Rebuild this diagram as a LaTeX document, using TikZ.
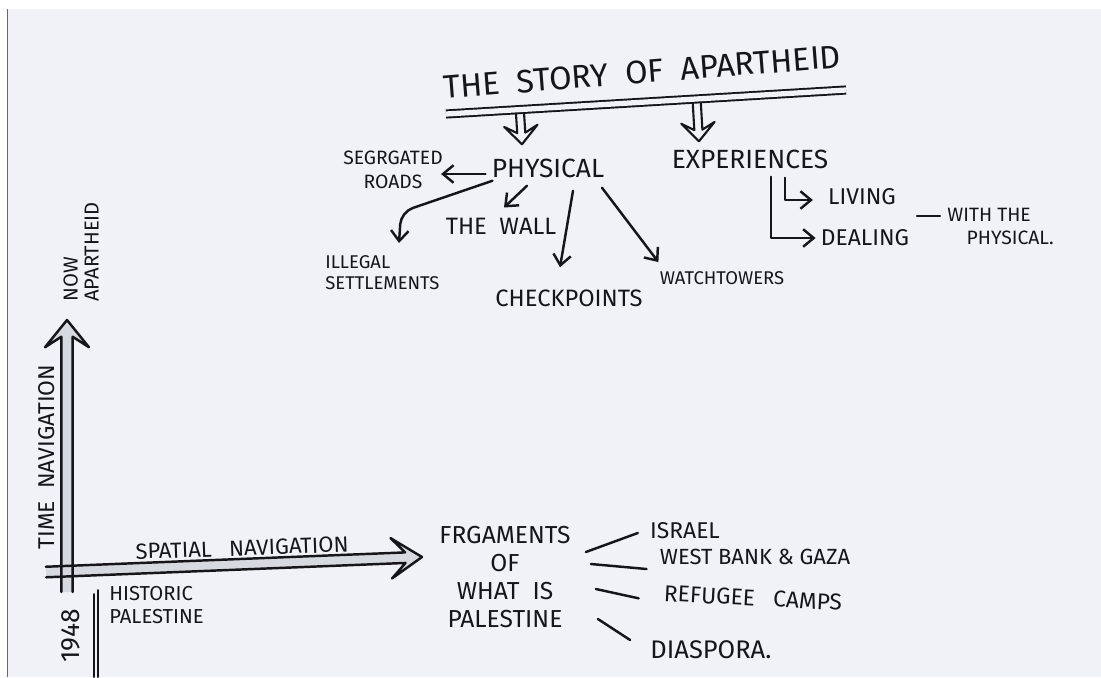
\documentclass[tikz,border=0pt]{standalone}
\usepackage{fontspec}
\IfFontExistsTF{FiraSans-Medium.otf}{\setmainfont{FiraSans-Medium.otf}}{\setmainfont{Fira Sans}}
\usetikzlibrary{arrows.meta,calc}
\definecolor{ink}{RGB}{22,22,26}
\definecolor{paper}{RGB}{241,242,248}
\definecolor{axisfill}{RGB}{214,218,224}
\definecolor{edge}{RGB}{120,96,104}

\tikzset{
  lbl/.style 2 args={inner sep=0pt, text=ink, font=\fontsize{#1}{#2}\selectfont},
  pen/.style={draw=ink, line width=1.4pt, line cap=round, line join=round},
  arr/.style={pen, -{Straight Barb[length=6pt,width=10pt]}},
  hollow/.style n args={4}{to path={
    let \p1=(\tikztostart), \p2=(\tikztotarget),
        \n1={atan2(\y2-\y1,\x2-\x1)}, \n2={veclen(\x2-\x1,\y2-\y1)}
    in ($(\p1)+({\n1+90}:#1)$)
    -- ($(\p1)+({\n1}:{\n2*1pt-#3})+({\n1+90}:#1)$)
    -- ($(\p1)+({\n1}:{\n2*1pt-#3-#4})+({\n1+90}:#2)$)
    -- (\p2)
    -- ($(\p1)+({\n1}:{\n2*1pt-#3-#4})+({\n1-90}:#2)$)
    -- ($(\p1)+({\n1}:{\n2*1pt-#3})+({\n1-90}:#1)$)
    -- ($(\p1)+({\n1-90}:#1)$)}},
}

\begin{document}
\begin{tikzpicture}[x=0.02cm,y=-0.02cm]
  \useasboundingbox (0,0) rectangle (1101,677);
  \fill[white] (0,0) rectangle (1101,677);
  \fill[paper] (8,9) rectangle (1101,677);
  \draw[edge, line width=0.8pt] (7.5,9) -- (7.5,677);

  % title and the two strands
  \node[lbl={18.5}{22}, rotate=4.5] (title) at (642,72) {THE\ \ STORY\ \ OF\ \ APARTHEID};
  \coordinate (rulel) at (446,114);
  \coordinate (ruler) at (846,90);
  \draw[pen, line cap=butt, line width=1.1pt, double=paper, double distance=3pt] (rulel) -- (ruler);

  \node[lbl={15}{18}] (phys) at (548,168) {PHYSICAL};
  \node[lbl={15}{18}] (exp) at (750,159) {EXPERIENCES};

  \draw[pen, line width=1.2pt] ($(rulel)!0.185!(ruler)+(0,4)$)
    to[hollow={2.3pt}{9.5pt}{6.5pt}{4pt}] ($(phys.north)+(-26,-14)$);
  \draw[pen, line width=1.2pt] ($(rulel)!0.627!(ruler)+(0,4)$)
    to[hollow={2.3pt}{9.5pt}{6.5pt}{4pt}] ($(exp.north)+(-51,-8)$);

  % physical
  \node[lbl={11}{13.5}, align=center] (roads) at (393,170) {SEGRGATED\\ROADS};
  \node[lbl={10.5}{12}, align=left, anchor=north west] (illegal) at (325,255) {ILLEGAL\\SETTLEMENTS};
  \node[lbl={13.5}{16}] (wall) at (501,226) {THE\ \ WALL};
  \node[lbl={13.5}{16}] (check) at (569,298) {CHECKPOINTS};
  \node[lbl={10.5}{12}] (watch) at (722,278) {WATCHTOWERS};

  \draw[arr] ($(phys.west)+(-6,6)$) -- ($(roads.east)+(-2,4)$);
  \draw[arr, rounded corners=7pt] ($(phys.south west)+(1,3)$) -- ($(illegal.north west)+(76,-43)$)
    -- ($(illegal.north west)+(74,-12)$);
  \draw[arr] ($(phys.south)+(-21,8)$) -- ($(wall.north)+(3,-10)$);
  \draw[arr] ($(phys.south)+(25,13)$) -- ($(check.north)+(-9,-22)$);
  \draw[arr] ($(phys.south)+(54,10)$) -- ($(watch.north west)+(-1,-9)$);

  % experiences
  \node[lbl={13}{15}] (living) at (862,197) {LIVING};
  \node[lbl={13}{15}] (dealing) at (865,238) {DEALING};
  \node[lbl={11}{13}, align=left, anchor=north west] (withnote) at (947,208) {WITH THE\\\hspace*{11pt}PHYSICAL.};

  \draw[arr] ($(exp.south)+(21,8)$) |- ($(dealing.west)+(-5,0)$);
  \draw[arr] ($(exp.south)+(35,9)$) |- ($(living.west)+(-15,3)$);
  \draw[pen] ($(withnote.north west)+(-30,8)$) -- ($(withnote.north west)+(-7,8)$);

  % axes
  \coordinate (t0) at (67,592);
  \coordinate (t1) at (67,320);
  \coordinate (s0) at (46,572);
  \coordinate (s1) at (422,557);
  \fill[axisfill] (t0) to[hollow={3.2pt}{12.5pt}{9.5pt}{6pt}] (t1);
  \fill[axisfill] (s0) to[hollow={3pt}{11.5pt}{9.5pt}{8pt}] (s1);
  \draw[pen] (t0) to[hollow={3.2pt}{12.5pt}{9.5pt}{6pt}] (t1);
  \draw[pen] (s0) to[hollow={3pt}{11.5pt}{9.5pt}{8pt}] (s1);

  \node[lbl={13}{15}, rotate=90] (timelbl) at (47,457) {TIME\ \ NAVIGATION};
  \node[lbl={11.5}{12}, rotate=90, align=left, anchor=west] (nowlbl) at (81,302) {NOW\\APARTHEID};
  \node[lbl={12.5}{14}, rotate=2] (spatlbl) at (242,548) {SPATIAL\ \ \ NAVIGATION};
  \node[lbl={15}{18}, rotate=90] (year) at (71,636) {1948};
  \draw[pen, line width=1.1pt] (94,594) -- (94,677);
  \draw[pen, line width=1.1pt] (98,590) -- (98,677);
  \node[lbl={11.5}{13}, align=left, anchor=north west] (historic) at (109,586) {HISTORIC\\PALESTINE};

  % fragments
  \node[lbl={14}{16}, align=center] (frag) at (505,577) {FRGAMENTS\\OF\\WHAT\ \ IS\\PALESTINE};
  \node[lbl={13}{15}] (israel) at (685,531) {ISRAEL};
  \node[lbl={12.5}{14}] (westbank) at (755,557) {WEST BANK \& GAZA};
  \node[lbl={13}{15}, rotate=-3] (refugee) at (753,598) {REFUGEE\ \ \ CAMPS};
  \node[lbl={14.5}{16}] (diaspora) at (711,650) {DIASPORA.};

  \draw[pen] ($(frag.east)+(15,-25)$) -- ($(israel.west)+(-12,2)$);
  \draw[pen] ($(frag.east)+(20,-13)$) -- ($(westbank.west)+(-13,12)$);
  \draw[pen] ($(frag.east)+(25,12)$) -- ($(refugee.west)+(-25,5)$);
  \draw[pen] ($(frag.east)+(27,42)$) -- ($(diaspora.west)+(-20,-10)$);
\end{tikzpicture}
\end{document}
